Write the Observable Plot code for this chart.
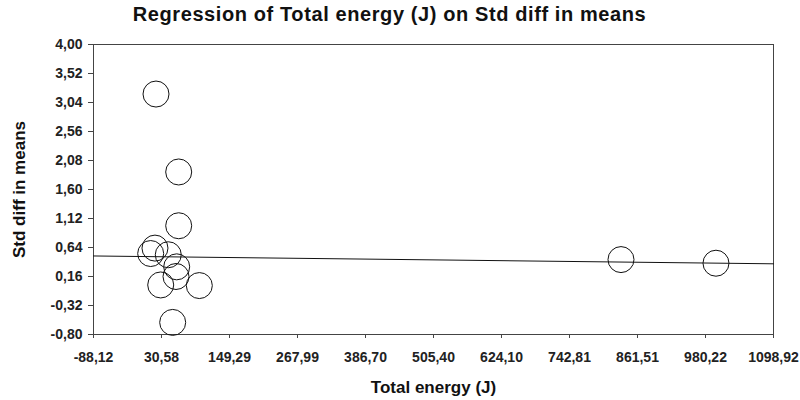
<!DOCTYPE html>
<html>
<head>
<meta charset="utf-8">
<script src="https://cdn.jsdelivr.net/npm/d3@7"></script>
<script src="https://cdn.jsdelivr.net/npm/@observablehq/plot@0.6"></script>
<style>
  body { margin: 0; background: #fff; }
  #wrap { width: 800px; height: 400px; position: relative; font-family: "Liberation Sans", Arial, sans-serif; }
  #title { width: 779px; height: 32px; line-height: 28px; text-align: center; font-size: 20px; letter-spacing: 0.6px; font-weight: bold; color: #111; }
  svg { display: block; }
</style>
</head>
<body>
<div id="wrap">
  <div id="title">Regression of Total energy (J) on Std diff in means</div>
  <div id="chart"></div>
</div>
<script>
const totalEnergy = [21.0, 60.6, 60.6, 19.2, 11.7, 42.4, 57.1, 55.9, 29.2, 96.6, 50.1, 832.7, 998.5];
const stdDiff     = [3.18, 1.89, 1.00, 0.63, 0.54, 0.52, 0.32, 0.16, 0.02, 0.01, -0.60, 0.44, 0.38];
const xTicks = [-88.12, 30.58, 149.29, 267.99, 386.70, 505.40, 624.10, 742.81, 861.51, 980.22, 1098.92];
const yTicks = [-0.80, -0.32, 0.16, 0.64, 1.12, 1.60, 2.08, 2.56, 3.04, 3.52, 4.00];
const regressionX = [-88.12, 1098.92];
const regressionY = [0.50, 0.37];

const points = totalEnergy.map((x, i) => ({x, y: stdDiff[i]}));
const regression = regressionX.map((x, i) => ({x, y: regressionY[i]}));
const fmt = d => d.toFixed(2).replace(".", ",");

const chart = Plot.plot({
  width: 800,
  height: 368,
  marginLeft: 93,
  marginRight: 27,
  marginTop: 12,
  marginBottom: 66,
  style: {fontFamily: "Liberation Sans, Arial, sans-serif", fontSize: "14px", fontWeight: "bold", color: "#222"},
  x: {domain: [xTicks[0], xTicks[xTicks.length - 1]], ticks: xTicks, tickFormat: fmt, label: null},
  y: {domain: [yTicks[0], yTicks[yTicks.length - 1]], ticks: yTicks, tickFormat: fmt, label: null},
  marks: [
    Plot.frame({stroke: "#444"}),
    Plot.axisX({ticks: xTicks, tickFormat: fmt, tickSize: 4, tickPadding: 14, stroke: "#444", fontSize: 14, label: null}),
    Plot.axisY({ticks: yTicks, tickFormat: fmt, tickSize: 5, tickPadding: 6, stroke: "#444", fontSize: 14, label: null}),
    Plot.line(regression, {x: "x", y: "y", stroke: "#111", strokeWidth: 1}),
    Plot.dot(points, {x: "x", y: "y", r: 13, stroke: "#111", strokeWidth: 1, fill: "none"}),
    Plot.text(["Total energy (J)"], {frameAnchor: "bottom", textAnchor: "middle", lineAnchor: "middle", dy: 53, fontSize: 17, fontWeight: "bold", fill: "#111"}),
    Plot.text(["Std diff in means"], {frameAnchor: "left", textAnchor: "middle", lineAnchor: "middle", rotate: -90, dx: -74, fontSize: 17, fontWeight: "bold", fill: "#111"})
  ]
});
document.getElementById("chart").appendChild(chart);
</script>
</body>
</html>
